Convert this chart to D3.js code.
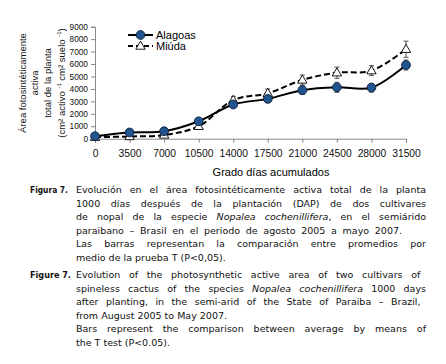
<!DOCTYPE html>
<html>
<head>
<meta charset="utf-8">
<script src="https://cdn.jsdelivr.net/npm/d3@7"></script>
<style>
  body { margin: 0; background: #fff; }
  svg { display: block; }
</style>
</head>
<body>
<svg id="chart" width="446" height="364"></svg>
<script>
// --- data ---
const gradoDias = [0, 3500, 7000, 10500, 14000, 17500, 21000, 24500, 28000, 31500];
const alagoas = [200, 500, 600, 1400, 2750, 3200, 3900, 4130, 4100, 5920];
const alagoasErr = [150, 200, 200, 250, 250, 300, 350, 400, 350, 400];
const miuda = [120, 180, 300, 1000, 3100, 3650, 4720, 5300, 5470, 7190];
const miudaErr = [150, 200, 200, 250, 300, 350, 400, 450, 400, 650];
const yTicks = [0, 1000, 2000, 3000, 4000, 5000, 6000, 7000, 8000, 9000];

const captionEs = [
  "Evolución en el área fotosintéticamente activa total de la planta",
  "1000 días después de la plantación (DAP) de dos cultivares",
  ["de nopal de la especie ", "Nopalea cochenillifera", ", en el semiárido"],
  "paraibano – Brasil en el periodo de agosto 2005 a mayo 2007.",
  "Las barras representan la comparación entre promedios por",
  "medio de la prueba T (P<0,05)."
];
const captionEn = [
  "Evolution of the photosynthetic active area  of two cultivars of",
  ["spineless cactus of the species ", "Nopalea cochenillifera", " 1000 days"],
  "after planting, in the semi-arid of the State of Paraiba  – Brazil,",
  "from August 2005 to May 2007.",
  "Bars represent the comparison between average by means of",
  "the T test (P<0.05)."
];
// right end of each justified caption line (null = ragged)
const captionEsEnds = [426, 426, 426, 402, 426, null];
const captionEnEnds = [426, 426, 425, null, 426, null];

const svg = d3.select("#chart");
const font = "Liberation Sans, Arial, sans-serif";
const capFont = "DejaVu Sans, Verdana, sans-serif";

const x = d3.scaleLinear().domain([0, 31500]).range([95, 406]);
const y = d3.scaleLinear().domain([0, 9000]).range([138.7, 26.7]);

// --- axes ---
const xAxis = svg.append("g")
  .attr("transform", `translate(0,${y(0)})`)
  .call(d3.axisBottom(x).tickValues(gradoDias).tickSize(4).tickPadding(7).tickFormat(d3.format("d")));
const yAxis = svg.append("g")
  .attr("transform", `translate(${x(0)},0)`)
  .call(d3.axisLeft(y).tickValues(yTicks).tickSize(4).tickPadding(3).tickFormat(d3.format("d")));
[xAxis, yAxis].forEach(g => {
  g.select(".domain").attr("stroke", "#8a8a8a");
  g.selectAll(".tick line").attr("stroke", "#8a8a8a");
  g.selectAll("text").attr("font-family", font).attr("fill", "#111");
});
xAxis.selectAll("text").attr("font-size", 10.3);
yAxis.selectAll("text").attr("font-size", 8.3);

// axis titles
svg.append("text")
  .attr("x", 271).attr("y", 176)
  .attr("text-anchor", "middle")
  .attr("font-family", font).attr("font-size", 11)
  .text("Grado días acumulados");

const yTitle = svg.append("text")
  .attr("transform", "translate(0,83) rotate(-90)")
  .attr("text-anchor", "middle")
  .attr("font-family", font).attr("font-size", 9.5).attr("fill", "#111");
["Área fotosintéticamente", "activa", "total de la planta"].forEach((s, i) => {
  yTitle.append("tspan").attr("x", 0).attr("y", 25.5 + i * 12.5).text(s);
});
const last = yTitle.append("tspan").attr("x", 0).attr("y", 64.5);
last.append("tspan").text("(cm² activo ");
last.append("tspan").attr("font-size", 6).attr("dy", -3.5).text("-1");
last.append("tspan").attr("dy", 3.5).text(" cm² suelo ");
last.append("tspan").attr("font-size", 6).attr("dy", -3.5).text("-1");
last.append("tspan").attr("dy", 3.5).text(")");

// --- series ---
const line = d3.line()
  .x((d, i) => x(gradoDias[i]))
  .y(d => y(d))
  .curve(d3.curveCatmullRom.alpha(0.5));

function errorBars(vals, errs) {
  const g = svg.append("g").attr("stroke", "#555").attr("stroke-width", 1);
  vals.forEach((v, i) => {
    const cx = x(gradoDias[i]);
    g.append("line").attr("x1", cx).attr("x2", cx).attr("y1", y(v - errs[i])).attr("y2", y(v + errs[i]));
    [v - errs[i], v + errs[i]].forEach(e => {
      g.append("line").attr("x1", cx - 2.5).attr("x2", cx + 2.5).attr("y1", y(e)).attr("y2", y(e));
    });
  });
}

errorBars(miuda, miudaErr);
errorBars(alagoas, alagoasErr);

svg.append("path").datum(miuda)
  .attr("d", line).attr("fill", "none")
  .attr("stroke", "#000").attr("stroke-width", 2).attr("stroke-dasharray", "6,3");
svg.append("path").datum(alagoas)
  .attr("d", line).attr("fill", "none")
  .attr("stroke", "#000").attr("stroke-width", 2);

const tri = d3.symbol().type(d3.symbolTriangle).size(38);
svg.append("g").selectAll("path").data(miuda).join("path")
  .attr("d", tri)
  .attr("transform", (d, i) => `translate(${x(gradoDias[i])},${y(d) + 0.5})`)
  .attr("fill", "#fff").attr("stroke", "#000").attr("stroke-width", 0.9);

svg.append("g").selectAll("circle").data(alagoas).join("circle")
  .attr("cx", (d, i) => x(gradoDias[i])).attr("cy", d => y(d))
  .attr("r", 4.4)
  .attr("fill", "#22548f").attr("stroke", "#0b1f3a").attr("stroke-width", 0.9);

// --- legend ---
const leg = svg.append("g").attr("font-family", font).attr("font-size", 11);
leg.append("line").attr("x1", 128).attr("x2", 153).attr("y1", 35).attr("y2", 35)
  .attr("stroke", "#000").attr("stroke-width", 2);
leg.append("circle").attr("cx", 140.5).attr("cy", 35).attr("r", 4.4)
  .attr("fill", "#22548f").attr("stroke", "#0b1f3a").attr("stroke-width", 0.9);
leg.append("text").attr("x", 156).attr("y", 39).text("Alagoas");
leg.append("line").attr("x1", 128).attr("x2", 153).attr("y1", 46).attr("y2", 46)
  .attr("stroke", "#000").attr("stroke-width", 2).attr("stroke-dasharray", "5,3");
leg.append("path").attr("d", tri).attr("transform", "translate(140.5,46.5)")
  .attr("fill", "#fff").attr("stroke", "#000").attr("stroke-width", 0.9);
leg.append("text").attr("x", 156).attr("y", 50).text("Miúda");

// --- caption (justified with word spacing) ---
const capFs = 9.5;
function caption(label, labelW, lines, ends, y0) {
  const g = svg.append("g").attr("font-family", capFont).attr("font-size", capFs).attr("fill", "#111");
  const lab = g.append("text").attr("font-weight", "bold").text(label);
  const sx = labelW / lab.node().getComputedTextLength();
  lab.attr("transform", `translate(30,${y0}) scale(${sx},1)`);
  lines.forEach((ln, i) => {
    const t = g.append("text").attr("x", 76).attr("y", y0 + i * 13.5);
    if (Array.isArray(ln)) {
      ln.forEach((part, j) => t.append("tspan").attr("font-style", j === 1 ? "italic" : null).text(part));
    } else {
      t.text(ln);
    }
    if (ends[i] == null) return;
    const str = Array.isArray(ln) ? ln.join("") : ln;
    const spaces = (str.match(/ /g) || []).length;
    const extra = (ends[i] - 76) - t.node().getComputedTextLength();
    if (spaces) t.attr("word-spacing", extra / spaces);
  });
}
caption("Figura 7.", 38, captionEs, captionEsEnds, 193);
caption("Figure 7.", 41, captionEn, captionEnEnds, 278);
</script>
</body>
</html>
